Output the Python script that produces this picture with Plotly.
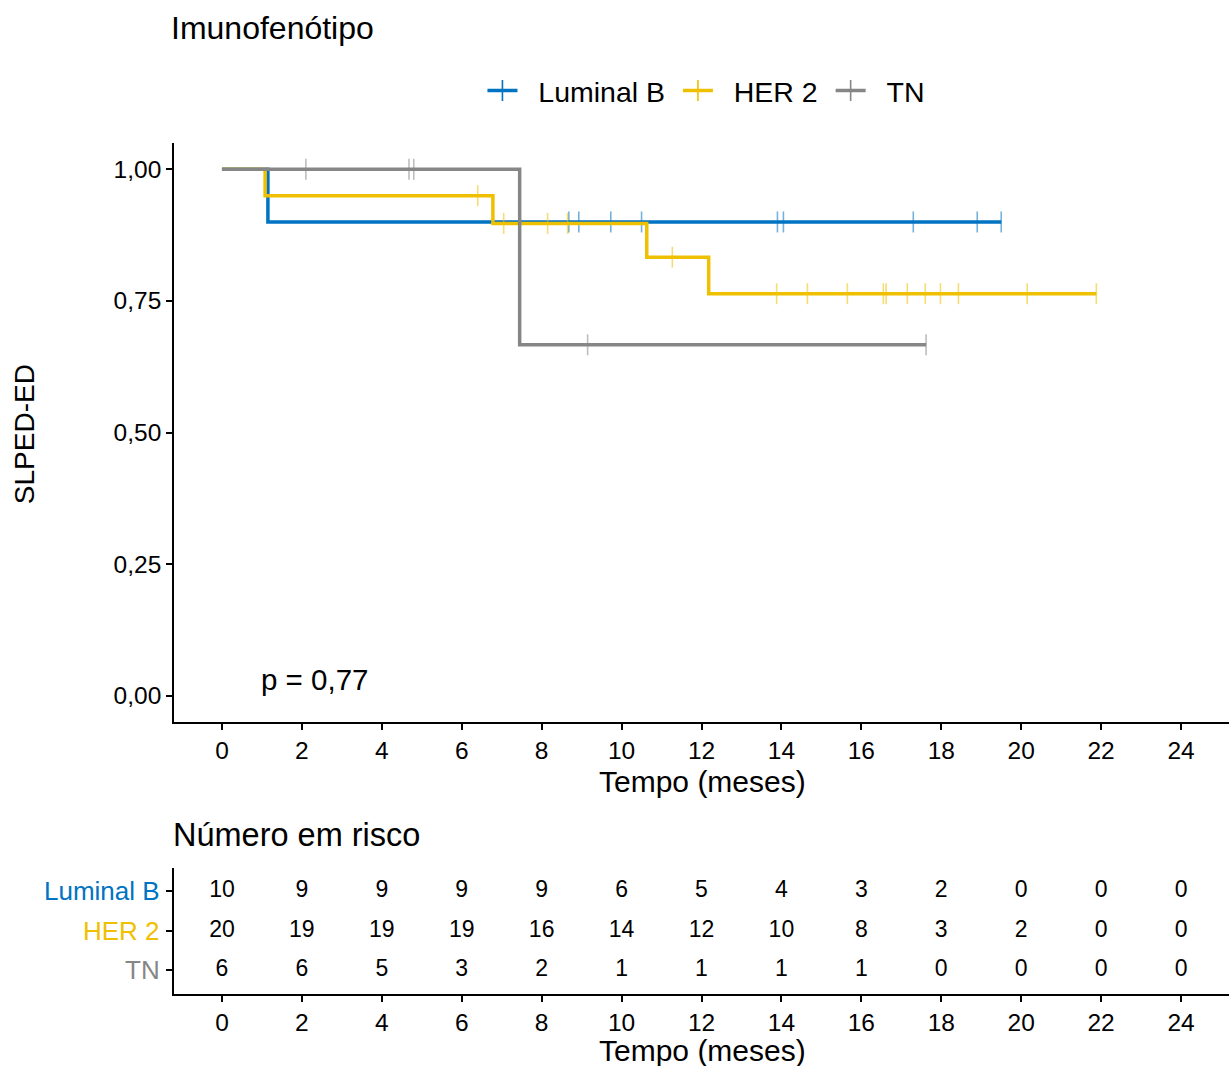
import plotly.graph_objects as go

# Survival times (months) and event flags (1 = event, 0 = censored)
lum_time = [1.15, 8.68, 8.93, 9.73, 10.5, 13.9, 14.05, 17.3, 18.9, 19.5]
lum_event = [1, 0, 0, 0, 0, 0, 0, 0, 0, 0]

her_time = [1.08, 6.4, 6.78, 7.05, 8.15, 8.65, 10.63, 11.27, 12.18, 13.88,
            14.65, 15.65, 16.55, 16.62, 17.15, 17.6, 17.98, 18.43, 20.15, 21.88]
her_event = [1, 0, 1, 0, 0, 0, 1, 0, 1, 0,
             0, 0, 0, 0, 0, 0, 0, 0, 0, 0]

tn_time = [2.1, 4.68, 4.8, 7.45, 9.15, 17.62]
tn_event = [0, 0, 0, 1, 0, 0]

groups = ["Luminal B", "HER 2", "TN"]
colors = ["#0073C2", "#EFC000", "#868686"]

# Number at risk table
risk_times = [0, 2, 4, 6, 8, 10, 12, 14, 16, 18, 20, 22, 24]
risk_lum = [10, 9, 9, 9, 9, 6, 5, 4, 3, 2, 0, 0, 0]
risk_her = [20, 19, 19, 19, 16, 14, 12, 10, 8, 3, 2, 0, 0]
risk_tn = [6, 6, 5, 3, 2, 1, 1, 1, 1, 0, 0, 0, 0]

y_ticks = [0, 0.25, 0.5, 0.75, 1.0]
y_ticktext = ["0,00", "0,25", "0,50", "0,75", "1,00"]
p_label = "p = 0,77"

FONT = "Liberation Sans, Arial, sans-serif"
NBSP = "\u00a0"


def kaplan_meier(times, events):
    """Return step coordinates and censor-mark coordinates."""
    order = sorted(range(len(times)), key=lambda i: times[i])
    n_at_risk = len(times)
    s = 1.0
    xs, ys = [0.0], [1.0]
    cx, cy = [], []
    for i in order:
        t, e = times[i], events[i]
        if e == 1:
            s = s * (n_at_risk - 1) / n_at_risk
            xs.append(t)
            ys.append(s)
        else:
            cx.append(t)
            cy.append(s)
        n_at_risk -= 1
    last = max(times)
    xs.append(last)
    ys.append(s)
    return xs, ys, cx, cy


fig = go.Figure()

series = [(lum_time, lum_event), (her_time, her_event), (tn_time, tn_event)]
for name, col, (t, e) in zip(groups, colors, series):
    xs, ys, cx, cy = kaplan_meier(t, e)
    fig.add_trace(go.Scatter(
        x=xs, y=ys, mode="lines", line=dict(color=col, width=3.5, shape="hv"),
        name=name, showlegend=False,
        xaxis="x", yaxis="y", hoverinfo="skip"))
    fig.add_trace(go.Scatter(
        x=cx, y=cy, mode="markers",
        marker=dict(symbol="line-ns-open", size=15, color=col, opacity=0.55,
                    line=dict(color=col, width=1.6)),
        name=name, showlegend=False,
        xaxis="x", yaxis="y", hoverinfo="skip"))

# Legend entries: line with censor tick (padded labels for spacing)
for name, col in zip(groups, colors):
    fig.add_trace(go.Scatter(
        x=[None], y=[None], mode="lines+markers",
        name=NBSP * 2 + name + NBSP,
        line=dict(color=col, width=3.5),
        marker=dict(symbol="line-ns-open", size=15, color=col,
                    line=dict(color=col, width=1.6)),
        xaxis="x", yaxis="y"))

# Risk table numbers
for row, vals in zip([3, 2, 1], [risk_lum, risk_her, risk_tn]):
    fig.add_trace(go.Scatter(
        x=risk_times, y=[row] * len(risk_times), mode="text",
        text=[str(v) for v in vals],
        textfont=dict(family=FONT, size=23, color="#000000"),
        showlegend=False, xaxis="x2", yaxis="y2", hoverinfo="skip"))

axis_common = dict(
    showline=True, linecolor="#000000", linewidth=1.6,
    ticks="outside", ticklen=6, tickwidth=1.6, tickcolor="#000000",
    showgrid=False, zeroline=False, mirror=False,
    tickfont=dict(family=FONT, size=24.5, color="#000000"),
)

fig.update_layout(
    width=1229, height=1066,
    margin=dict(l=174, r=0, t=143, b=72),
    paper_bgcolor="white", plot_bgcolor="white",
    font=dict(family=FONT, color="#000000"),
    xaxis=dict(domain=[0, 1], range=[-1.2, 25.2], tickvals=risk_times,
               anchor="y", **axis_common),
    yaxis=dict(domain=[0.3196, 1.0], range=[-0.05, 1.05], tickvals=y_ticks,
               ticktext=y_ticktext, anchor="x", **axis_common),
    xaxis2=dict(domain=[0, 1], range=[-1.2, 25.2], tickvals=risk_times,
                anchor="y2", **axis_common),
    yaxis2=dict(domain=[0, 0.1485], range=[0.4, 3.6], tickvals=[1, 2, 3],
                showticklabels=False, anchor="x2",
                **{k: v for k, v in axis_common.items() if k != "tickfont"}),
    legend=dict(orientation="h", x=0.508, xanchor="center", y=1.061,
                yanchor="middle", font=dict(family=FONT, size=28.5, color="#000000"),
                itemwidth=30, traceorder="normal", bgcolor="rgba(0,0,0,0)"),
    showlegend=True,
)

annotations = [
    dict(text="Imunofenótipo", xref="paper", yref="paper", x=-0.005, y=1.135,
         xanchor="left", yanchor="middle", showarrow=False,
         font=dict(family=FONT, size=32, color="#000000")),
    dict(text="SLPED-ED", xref="paper", yref="paper", x=-0.142, y=(994 - 434) / 851,
         xanchor="center", yanchor="middle", textangle=-90, showarrow=False,
         font=dict(family=FONT, size=28, color="#000000")),
    dict(text="Tempo (meses)", xref="paper", yref="paper", x=0.5005, y=(994 - 781) / 851,
         xanchor="center", yanchor="middle", showarrow=False,
         font=dict(family=FONT, size=30, color="#000000")),
    dict(text=p_label, xref="x", yref="y", x=0.92, y=0.03,
         xanchor="left", yanchor="middle", showarrow=False,
         font=dict(family=FONT, size=29.5, color="#000000")),
    dict(text="Número em risco", xref="paper", yref="paper", x=-0.003, y=(994 - 835) / 851,
         xanchor="left", yanchor="middle", showarrow=False,
         font=dict(family=FONT, size=32.5, color="#000000")),
    dict(text="Tempo (meses)", xref="paper", yref="paper", x=0.5005, y=(994 - 1050) / 851,
         xanchor="center", yanchor="middle", showarrow=False,
         font=dict(family=FONT, size=30, color="#000000")),
]
for row, name, col in zip([3, 2, 1], groups, colors):
    annotations.append(dict(
        text=name, xref="paper", yref="y2", x=-12 / 1055, y=row,
        xanchor="right", yanchor="middle", showarrow=False,
        font=dict(family=FONT, size=26, color=col)))

fig.update_layout(annotations=annotations)

fig.write_html("out.html")
